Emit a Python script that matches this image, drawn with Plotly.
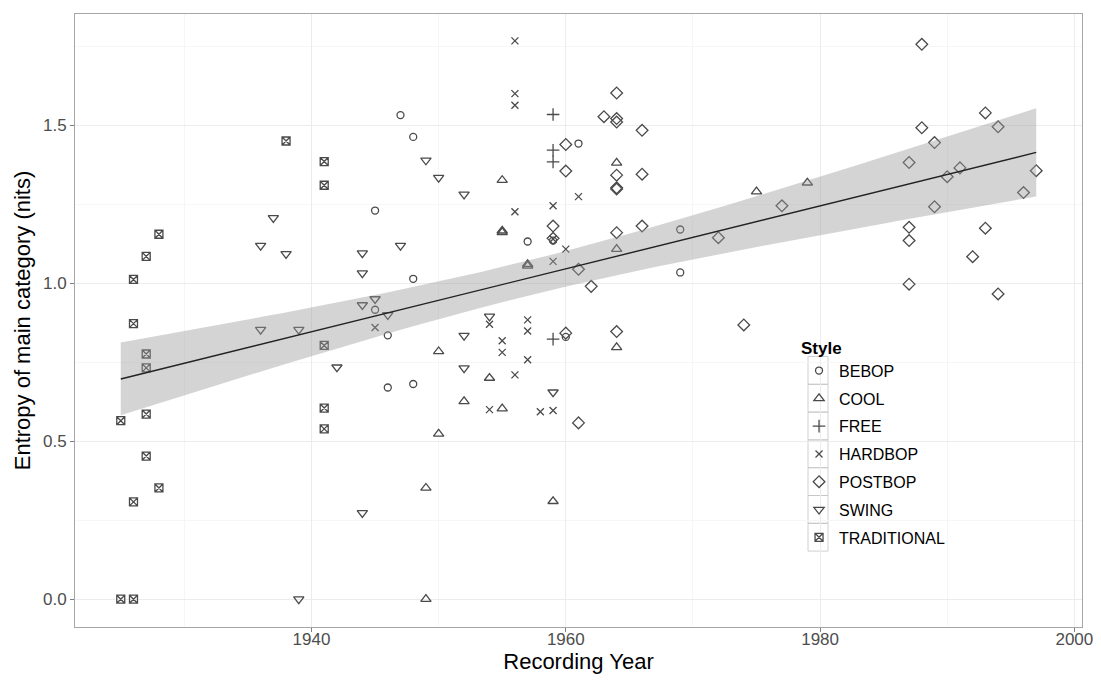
import numpy as np
import plotly.graph_objects as go

# ---- data ----
bebop_year = [1947, 1948, 1945, 1957, 1948, 1945, 1946, 1946, 1948, 1961, 1969, 1969, 1959, 1960]
bebop_val = [1.532, 1.463, 1.230, 1.132, 1.014, 0.916, 0.835, 0.670, 0.681, 1.442, 1.170, 1.034, 1.135, 0.830]

cool_year = [1955, 1955, 1955, 1957, 1957, 1950, 1954, 1952, 1955, 1950, 1949, 1959, 1949, 1964, 1964, 1964, 1975, 1979]
cool_val = [1.326, 1.161, 1.166, 1.060, 1.055, 0.784, 0.700, 0.626, 0.603, 0.523, 0.352, 0.310, 0.000, 1.381, 1.108, 0.797, 1.290, 1.318]

free_year = [1959, 1959, 1959, 1959]
free_val = [1.534, 1.421, 1.384, 0.823]

hardbop_year = [1956, 1956, 1956, 1961, 1959, 1956, 1960, 1959, 1957, 1945, 1954, 1957, 1955, 1955, 1957, 1956, 1954, 1958, 1959, 1959]
hardbop_val = [1.767, 1.600, 1.563, 1.274, 1.245, 1.226, 1.108, 1.069, 0.884, 0.860, 0.870, 0.849, 0.818, 0.781, 0.758, 0.710, 0.600, 0.593, 0.597, 1.140]

postbop_year = [1960, 1960, 1959, 1959, 1960, 1961, 1964, 1963, 1964, 1964, 1966, 1964, 1964, 1964, 1966, 1964,
                1966, 1972, 1961, 1962, 1977, 1974, 1964, 1988, 1993, 1988, 1994, 1989, 1987, 1991, 1990, 1997,
                1996, 1989, 1987, 1987, 1993, 1992, 1987, 1994]
postbop_val = [1.439, 1.355, 1.181, 1.142, 0.842, 0.558, 1.602, 1.527, 1.521, 1.510, 1.484, 1.342, 1.302, 1.298, 1.345, 1.160,
               1.181, 1.144, 1.044, 0.990, 1.245, 0.868, 0.847, 1.756, 1.539, 1.492, 1.495, 1.445, 1.382, 1.365, 1.337, 1.356,
               1.287, 1.242, 1.177, 1.135, 1.174, 1.084, 0.997, 0.966]

swing_year = [1937, 1936, 1938, 1936, 1939, 1939, 1949, 1950, 1952, 1944, 1944, 1947, 1944, 1945, 1946, 1954, 1952, 1942, 1952, 1959, 1944]
swing_val = [1.207, 1.119, 1.093, 0.853, 0.853, 0.000, 1.389, 1.334, 1.281, 1.095, 1.032, 1.119, 0.931, 0.950, 0.900, 0.895, 0.834, 0.734, 0.731, 0.655, 0.273]

traditional_year = [1938, 1941, 1941, 1928, 1927, 1926, 1926, 1927, 1927, 1925, 1927, 1927, 1928, 1926, 1925, 1926, 1941, 1941, 1941]
traditional_val = [1.450, 1.385, 1.310, 1.155, 1.085, 1.012, 0.872, 0.776, 0.732, 0.565, 0.586, 0.453, 0.352, 0.308, 0.000, 0.000, 0.803, 0.605, 0.539]

styles = ["BEBOP", "COOL", "FREE", "HARDBOP", "POSTBOP", "SWING", "TRADITIONAL"]
years = [bebop_year, cool_year, free_year, hardbop_year, postbop_year, swing_year, traditional_year]
vals = [bebop_val, cool_val, free_val, hardbop_val, postbop_val, swing_val, traditional_val]

# fitted line (value of the lm line at the first and last year)
fit_years = [1925, 1997]
fit_vals = [0.697, 1.414]

x_ticks = [1940, 1960, 1980, 2000]
y_ticks = [0.0, 0.5, 1.0, 1.5]

# ---- styling ----
symbols = ["circle-open", "triangle-up-open", "cross-thin-open", "x-thin-open",
           "diamond-open", "triangle-down-open", "square-x-open"]
sizes = [7, 9, 9, 7, 9, 9, 8]
mcolor = "#4a4a4a"
FONT = "Liberation Sans, Arial, sans-serif"

fig = go.Figure()

for i, name in enumerate(styles):
    fig.add_trace(go.Scatter(
        x=years[i], y=vals[i], mode="markers", name=name,
        legendgroup=name,
        marker=dict(symbol=symbols[i], size=sizes[i], color=mcolor,
                    line=dict(color=mcolor, width=1.3)),
    ))

# ---- line with 95% confidence band (as geom_smooth(method="lm")) ----
xa = np.concatenate([np.asarray(v, float) for v in years])
ya = np.concatenate([np.asarray(v, float) for v in vals])
slope = (fit_vals[1] - fit_vals[0]) / (fit_years[1] - fit_years[0])
intercept = fit_vals[0] - slope * fit_years[0]
n = len(xa)
resid = ya - (intercept + slope * xa)
resid = resid - resid.mean()
s = np.sqrt(np.sum(resid ** 2) / (n - 2))
xbar = xa.mean()
sxx = np.sum((xa - xbar) ** 2)
xs = np.linspace(fit_years[0], fit_years[1], 80)
pred = intercept + slope * xs
se = s * np.sqrt(1.0 / n + (xs - xbar) ** 2 / sxx)
T975 = 1.977
lo = pred - T975 * se
hi = pred + T975 * se

fig.add_trace(go.Scatter(x=xs, y=lo, mode="lines", line=dict(width=0), showlegend=False, hoverinfo="skip"))
fig.add_trace(go.Scatter(x=xs, y=hi, mode="lines", line=dict(width=0), fill="tonexty",
                         fillcolor="rgba(153,153,153,0.42)", showlegend=False, hoverinfo="skip"))
fig.add_trace(go.Scatter(x=xs, y=pred, mode="lines", line=dict(color="#222222", width=1.4),
                         showlegend=False, hoverinfo="skip"))

axis_common = dict(
    showline=True, linecolor="#a6a6a6", linewidth=1, mirror=True,
    ticks="outside", ticklen=4, tickcolor="#7f7f7f", tickwidth=1,
    showgrid=True, gridcolor="#ececec", gridwidth=1,
    zeroline=False, automargin=False, ticklabeloverflow="allow",
    tickfont=dict(family=FONT, size=17, color="#4d4d4d"),
)

# page body has an 8px margin: the figure is sized/offset so the panel lands where the reference has it
fig.update_layout(
    width=1085, height=669,
    margin=dict(l=67, r=11, t=6, b=50),
    paper_bgcolor="white", plot_bgcolor="white",
    font=dict(family=FONT, color="#000000"),
    xaxis=dict(range=[1921.4, 2000.6], tickvals=x_ticks, ticklabelstandoff=-7,
               title=dict(text="Recording Year", font=dict(family=FONT, size=22, color="#000"), standoff=2),
               **axis_common),
    yaxis=dict(range=[-0.088, 1.852], tickvals=y_ticks, tickformat=".1f",
               title=dict(text="Entropy of main category (nits)", font=dict(family=FONT, size=22, color="#000"), standoff=6),
               **axis_common),
    legend=dict(
        title=dict(text="<b>Style</b>", font=dict(family=FONT, size=17, color="#000")),
        font=dict(family=FONT, size=16, color="#000"),
        x=0.719, xanchor="left", y=0.482, yanchor="top",
        bgcolor="rgba(255,255,255,0)", tracegroupgap=4,
        itemsizing="trace",
    ),
    showlegend=True,
)
fig.update_xaxes(minor=dict(tickvals=[1930, 1950, 1970, 1990], ticks="", showgrid=True,
                            gridcolor="#f6f6f6", gridwidth=0.6))
fig.update_yaxes(minor=dict(tickvals=[0.25, 0.75, 1.25, 1.75], ticks="", showgrid=True,
                            gridcolor="#f6f6f6", gridwidth=0.6))

# legend key boxes (ggplot-style key background borders)
PLOT_L, PLOT_T, PLOT_W, PLOT_H = 75, 14, 1007, 613
key_left, key_right, key_top, key_h = 808, 828, 356.5, 27.8
for k in range(len(styles)):
    top = key_top + k * key_h
    fig.add_shape(type="rect", xref="paper", yref="paper",
                  x0=(key_left - PLOT_L) / PLOT_W, x1=(key_right - PLOT_L) / PLOT_W,
                  y0=(PLOT_T + PLOT_H - top - key_h) / PLOT_H, y1=(PLOT_T + PLOT_H - top) / PLOT_H,
                  line=dict(color="#c4c4c4", width=0.8), fillcolor="rgba(0,0,0,0)", layer="below")

fig.write_html("out.html")
